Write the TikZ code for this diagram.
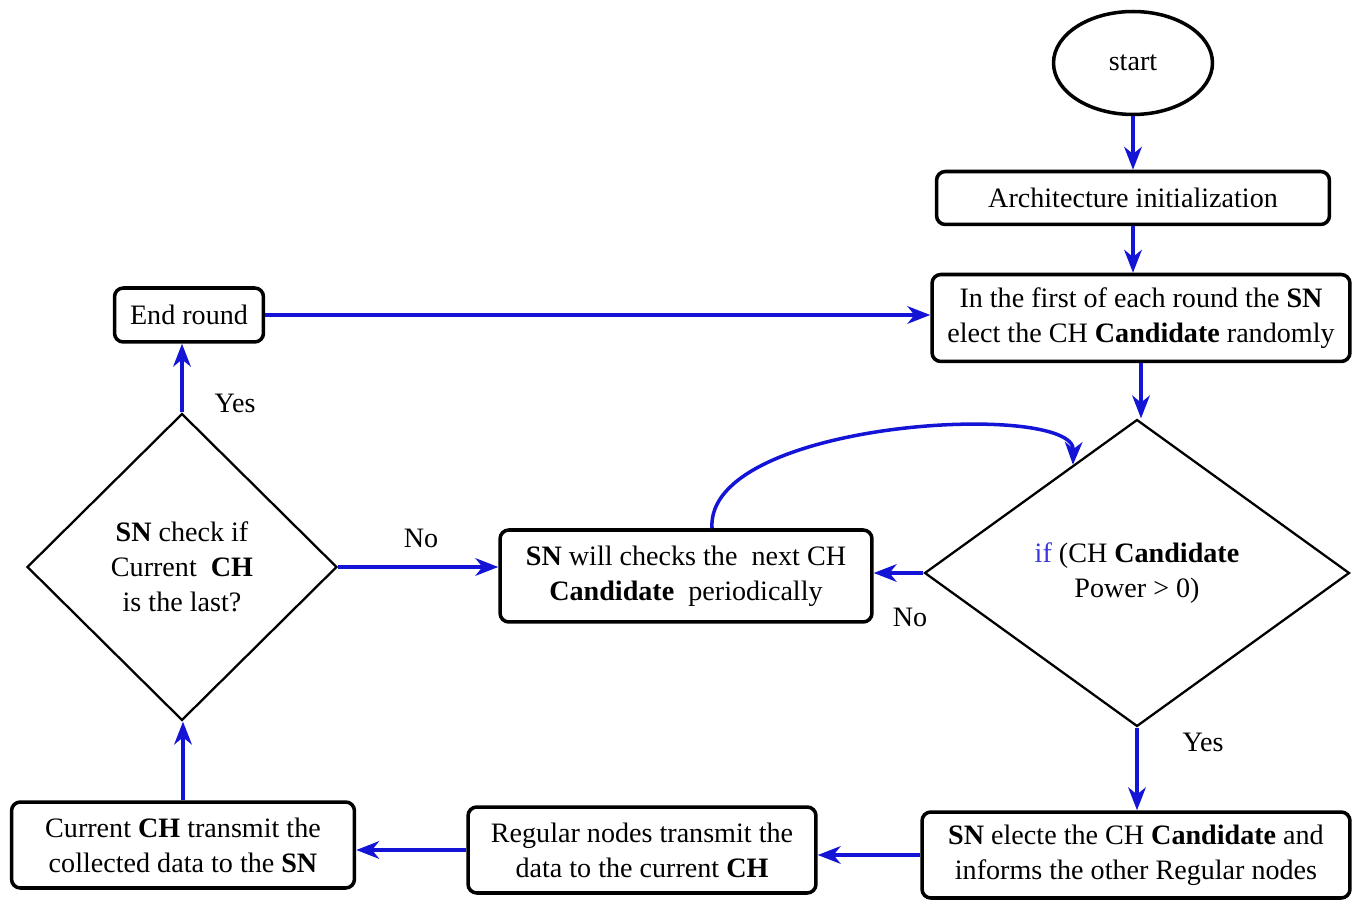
\documentclass[tikz,border=0pt]{standalone}
\usepackage{fontspec}
\setmainfont{Liberation Serif}
\usepackage{xcolor}
\usepackage{tikz}
\usetikzlibrary{positioning,arrows.meta,shapes.geometric,calc}
\definecolor{flowblue}{RGB}{20,20,215}

\begin{document}
\begin{tikzpicture}[x=0.02cm, y=-0.02cm, font=\fontsize{16}{20}\selectfont,
	proc/.style={draw, line width=2pt, rounded corners=5pt, align=center, inner sep=0pt},
	cond/.style={draw, diamond, line width=1.3pt, align=center, inner sep=0pt},
	flow/.style={flowblue, line width=2pt, -{Stealth[length=13pt, width=10pt, inset=4pt]}}]
		\useasboundingbox (0,0) rectangle (1359,901);
		% right column
		\node[draw, ellipse, line width=2pt, minimum width=3.18cm, minimum height=2.06cm] (start) at (1133,63) {start};
		\node[proc, minimum width=7.86cm, minimum height=1.06cm] (init) at (1133,198) {Architecture initialization};
		\node[proc, minimum width=8.36cm, minimum height=1.74cm] (first) at (1141,318) {In the first of each round the \textbf{SN}\\ elect the CH \textbf{Candidate} randomly};
		\node[cond, minimum width=8.5cm, minimum height=6.14cm] (power) at (1137,573) {\textcolor{flowblue!85}{if} (CH \textbf{Candidate}\\ Power > 0)};
		\node[proc, minimum width=8.56cm, minimum height=1.72cm] (elect) at (1136,855) {\textbf{SN} electe the CH \textbf{Candidate} and\\ informs the other Regular nodes};
		% middle
		\node[proc, minimum width=7.44cm, minimum height=1.84cm] (next) at (686,576) {\textbf{SN} will checks the \ next CH\\ \textbf{Candidate} \ periodically};
		\node[proc, minimum width=6.96cm, minimum height=1.72cm] (regular) at (642,850) {Regular nodes transmit the\\ data to the current \textbf{CH}};
		% left column
		\node[proc, minimum width=6.86cm, minimum height=1.72cm] (current) at (183,845) {Current \textbf{CH} transmit the\\ collected data to the \textbf{SN}};
		\node[cond, minimum width=6.2cm, minimum height=6.14cm] (last) at (182,567) {\textbf{SN} check if\\ Current \ \textbf{CH}\\ is the last?};
		\node[proc, minimum width=2.98cm, minimum height=1.08cm] (endround) at (189,315) {End round};
		% labels
		\node (yesl) at (235,403) {Yes};
		\node (nol) at (421,538) {No};
		\node (nor) at (910,617) {No};
		\node (yesr) at (1203,742) {Yes};
		\coordinate (back) at ($(power.west)!0.7!(power.north)$);
		% connectors
		\draw[flow] (start) -- (init);
		\draw[flow] (init.south) -- (init.south |- first.north);
		\draw[flow] (first.south) -- (first.south |- power.north);
		\draw[flow] (power.west) -- (power.west -| next.east);
		\draw[flow] (next.north -| 712,0) .. controls (705,420) and (1075,400) .. (back);
		\draw[flow] (power.south) -- (power.south |- elect.north);
		\draw[flow] (elect.west) -- (elect.west -| regular.east);
		\draw[flow] (regular.west) -- (regular.west -| current.east);
		\draw[flow] (current.north) -- (current.north |- last.south);
		\draw[flow] (last.east) -- (last.east -| next.west);
		\draw[flow] (last.north) -- (last.north |- endround.south);
		\draw[flow] (endround.east) -- (endround.east -| first.west);
	\end{tikzpicture}
\end{document}
